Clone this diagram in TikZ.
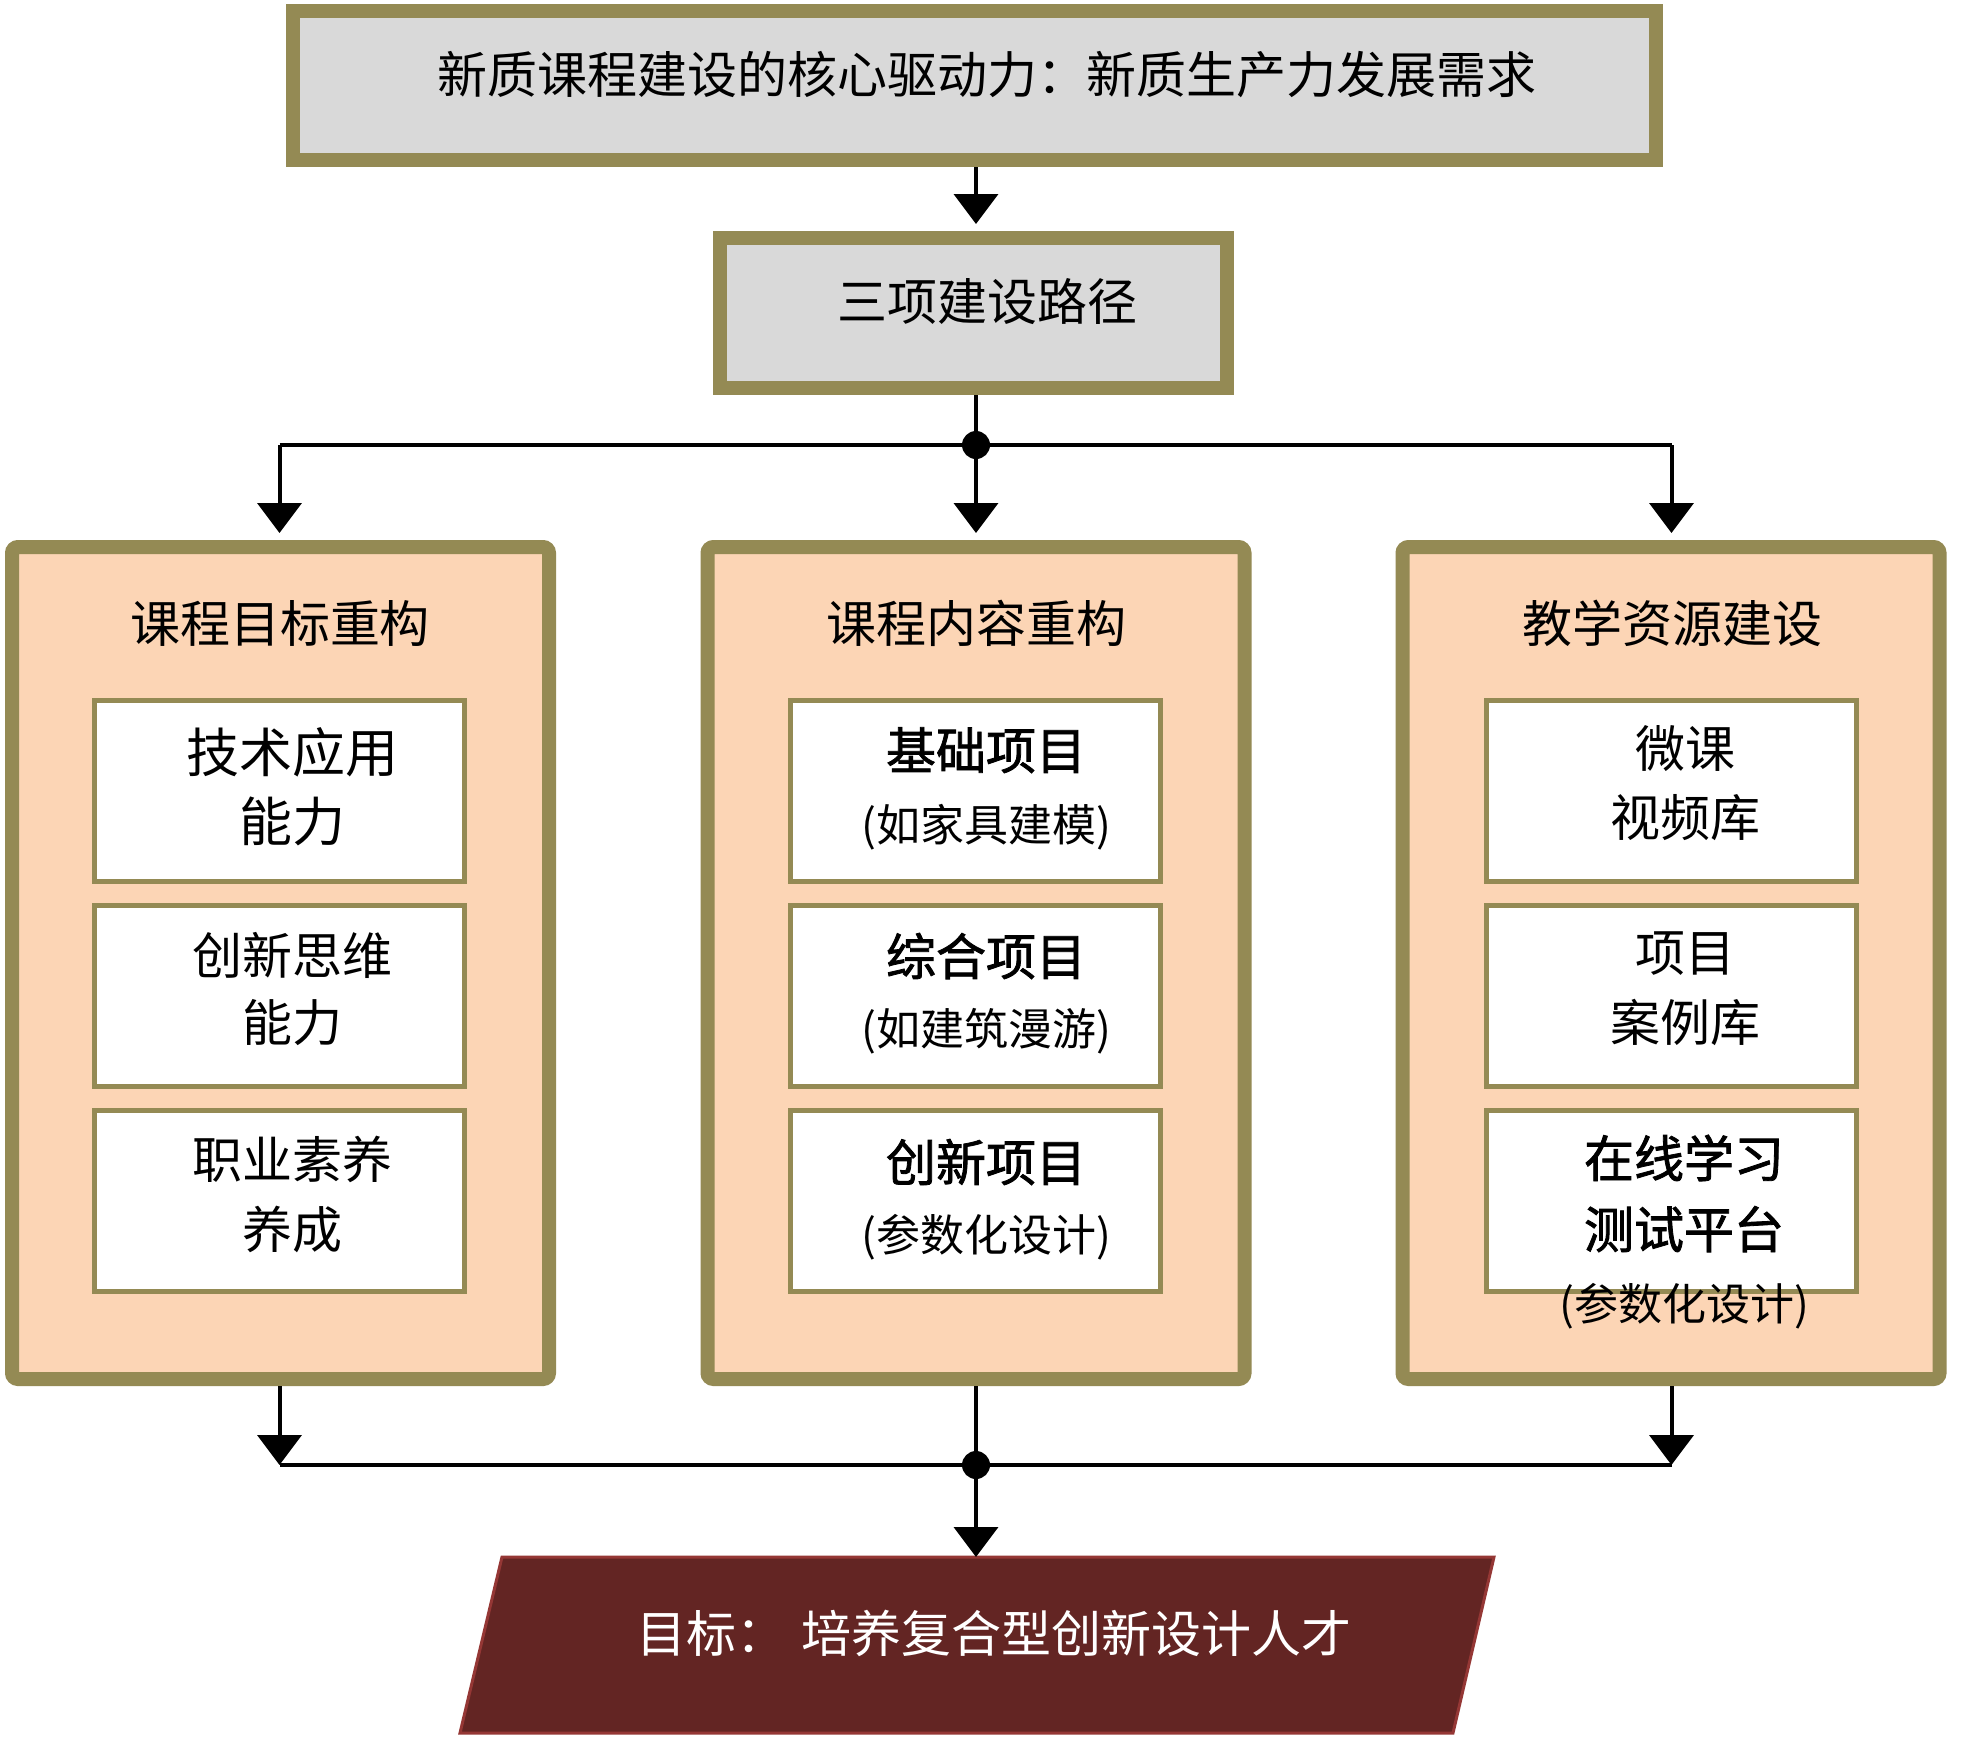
\documentclass[tikz,border=0pt]{standalone}
\usepackage{fontspec}
\setmainfont{Noto Sans CJK SC}
\newfontfamily\medfont{Noto Sans CJK SC}[FakeBold=1.6]
\usetikzlibrary{arrows.meta}
\definecolor{tanline}{HTML}{948A54}
\definecolor{grayfill}{HTML}{D9D9D9}
\definecolor{peach}{HTML}{FCD5B5}
\definecolor{goalfill}{HTML}{632523}
\definecolor{goalline}{HTML}{953735}
\begin{document}
\begin{tikzpicture}[x=0.5pt,y=-0.5pt,
  topbox/.style={draw=tanline, line width=7pt, fill=grayfill, inner sep=0pt},
  colbox/.style={draw=tanline, line width=7pt, fill=peach, rounded corners=3pt, minimum width=268.5pt, minimum height=416pt, inner sep=0pt},
  itembox/.style={draw=tanline, line width=2.5pt, fill=white, minimum width=185pt, minimum height=90.5pt, inner sep=0pt},
  txt/.style={inner sep=0pt, text height=0.82em, text depth=0.1em, font=\fontsize{25pt}{30pt}\selectfont},
  big/.style={txt, font=\fontsize{26.5pt}{30pt}\selectfont},
  bld/.style={txt, font=\fontsize{25pt}{30pt}\medfont},
  par/.style={txt, font=\fontsize{22pt}{26pt}\selectfont},
  conn/.style={line width=2pt, draw=black},
  arr/.style={conn, -{Triangle[width=22pt,length=15pt]}},
  dot/.style={circle, fill=black, inner sep=0pt, minimum size=14pt},
  goal/.style={fill=goalfill, draw=goalline, line width=1.5pt}
]
\useasboundingbox (0,0) rectangle (1967,1751);
\fill[white] (0,0) rectangle (1967,1751);

% top boxes
\node[topbox, minimum width=681.5pt, minimum height=74.5pt] (top) at (974.5,85.5) {};
\node[txt] (toptext) at (987,86) {新质课程建设的核心驱动力：新质生产力发展需求};
\node[topbox, minimum width=253.5pt, minimum height=75pt] (mid) at (973.5,313) {};
\node[txt] (midtext) at (987,313) {三项建设路径};

% columns
\node[colbox] (colL) at (280.5,963) {};
\node[colbox] (colM) at (976,963) {};
\node[colbox] (colR) at (1671,963) {};
\node[txt] (titL) at (280,635) {课程目标重构};
\node[txt] (titM) at (976,635) {课程内容重构};
\node[txt] (titR) at (1672,635) {教学资源建设};

% item boxes
\foreach \n/\x in {L/279.5, M/975, R/1671.5}{
  \node[itembox] (\n1) at (\x,791) {};
  \node[itembox] (\n2) at (\x,995.5) {};
  \node[itembox] (\n3) at (\x,1201) {};
}

% left texts
\node[big] (L1a) at (292,765) {技术应用};
\node[big] (L1b) at (292,834) {能力};
\node[txt] (L2a) at (292,967) {创新思维};
\node[txt] (L2b) at (292,1034) {能力};
\node[txt] (L3a) at (292,1171) {职业素养};
\node[txt] (L3b) at (292,1241) {养成};

% middle texts
\node[bld] (M1a) at (986,762) {基础项目};
\node[par] (M1b) at (986,834) {(如家具建模)};
\node[bld] (M2a) at (986,968) {综合项目};
\node[par] (M2b) at (986,1038) {(如建筑漫游)};
\node[bld] (M3a) at (986,1174) {创新项目};
\node[par] (M3b) at (986,1244) {(参数化设计)};

% right texts
\node[txt] (R1a) at (1685,760) {微课};
\node[txt] (R1b) at (1685,829) {视频库};
\node[txt] (R2a) at (1685,964) {项目};
\node[txt] (R2b) at (1685,1034) {案例库};
\node[bld] (R3a) at (1684,1170) {在线学习};
\node[bld] (R3b) at (1684,1241) {测试平台};
\node[par] (R3c) at (1684,1313) {(参数化设计)};

% goal
\draw[goal] (502,1557) -- (1494,1557) -- (1453,1733) -- (460,1733) -- cycle;
\coordinate (goaltop) at (976,1557);
\node[txt, font=\fontsize{25pt}{30pt}\selectfont, text=white] (goaltext) at (994,1645) {目标：\hspace{0.3em}培养复合型创新设计人才};

% junctions
\node[dot] (j1) at (976,445) {};
\node[dot] (j2) at (976,1465) {};

% connectors
\draw[arr, shorten >=3.5pt] (top.south -| j1) -- (mid.north -| j1);
\draw[conn] (mid.south -| j1) -- (j1);
\draw[conn] (j1 -| L1.north) -- (j1 -| R1.north);
\draw[arr, shorten >=3.5pt] (j1 -| L1.north) -- (L1.north |- colL.north);
\draw[arr, shorten >=3.5pt] (j1) -- (colM.north);
\draw[arr, shorten >=3.5pt] (j1 -| R1.north) -- (R1.north |- colR.north);

\draw[arr] (L3.south |- colL.south) -- (L3.south |- j2);
\draw[arr] (R3.south |- colR.south) -- (R3.south |- j2);
\draw[conn] (L3.south |- j2) -- (R3.south |- j2);
\draw[conn] (colM.south) -- (j2);
\draw[arr] (j2) -- (goaltop);
\end{tikzpicture}
\end{document}
